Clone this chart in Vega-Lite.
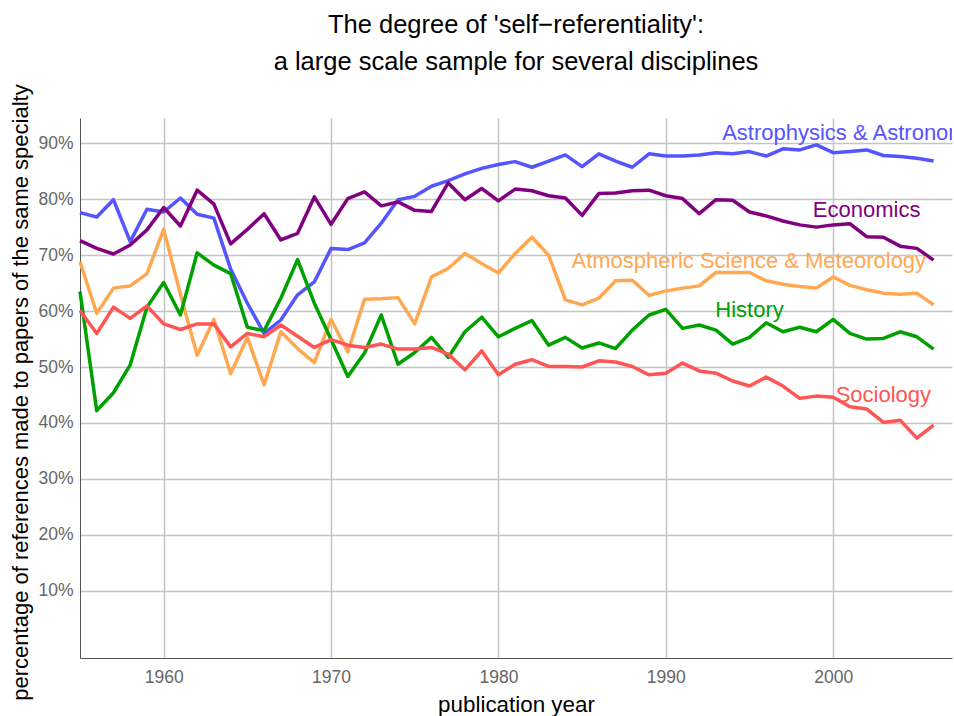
{
  "$schema": "https://vega.github.io/schema/vega-lite/v6.json",
  "autosize": "none",
  "width": 872,
  "height": 540,
  "padding": {"left": 80, "top": 118, "right": 2, "bottom": 58},
  "background": "white",
  "config": {
    "font": "Liberation Sans",
    "view": {"stroke": null},
    "axis": {"labelFont": "Liberation Sans", "titleFont": "Liberation Sans"}
  },
  "title": {
    "text": ["The degree of 'self\u2212referentiality':", "a large scale sample for several disciplines"],
    "fontSize": 25.5,
    "fontWeight": "normal",
    "color": "black",
    "lineHeight": 37,
    "anchor": "middle",
    "frame": "group",
    "baseline": "alphabetic",
    "offset": -12
  },
  "datasets": {
    "series": [
      {"year":1955,"discipline":"Astrophysics & Astronomy","share":0.776},{"year":1956,"discipline":"Astrophysics & Astronomy","share":0.768},{"year":1957,"discipline":"Astrophysics & Astronomy","share":0.799},{"year":1958,"discipline":"Astrophysics & Astronomy","share":0.724},{"year":1959,"discipline":"Astrophysics & Astronomy","share":0.782},{"year":1960,"discipline":"Astrophysics & Astronomy","share":0.777},{"year":1961,"discipline":"Astrophysics & Astronomy","share":0.802},{"year":1962,"discipline":"Astrophysics & Astronomy","share":0.773},{"year":1963,"discipline":"Astrophysics & Astronomy","share":0.766},{"year":1964,"discipline":"Astrophysics & Astronomy","share":0.675},{"year":1965,"discipline":"Astrophysics & Astronomy","share":0.614},{"year":1966,"discipline":"Astrophysics & Astronomy","share":0.560},{"year":1967,"discipline":"Astrophysics & Astronomy","share":0.584},{"year":1968,"discipline":"Astrophysics & Astronomy","share":0.629},{"year":1969,"discipline":"Astrophysics & Astronomy","share":0.652},{"year":1970,"discipline":"Astrophysics & Astronomy","share":0.712},{"year":1971,"discipline":"Astrophysics & Astronomy","share":0.710},{"year":1972,"discipline":"Astrophysics & Astronomy","share":0.722},{"year":1973,"discipline":"Astrophysics & Astronomy","share":0.757},{"year":1974,"discipline":"Astrophysics & Astronomy","share":0.799},{"year":1975,"discipline":"Astrophysics & Astronomy","share":0.805},{"year":1976,"discipline":"Astrophysics & Astronomy","share":0.823},{"year":1977,"discipline":"Astrophysics & Astronomy","share":0.833},{"year":1978,"discipline":"Astrophysics & Astronomy","share":0.845},{"year":1979,"discipline":"Astrophysics & Astronomy","share":0.855},{"year":1980,"discipline":"Astrophysics & Astronomy","share":0.862},{"year":1981,"discipline":"Astrophysics & Astronomy","share":0.867},{"year":1982,"discipline":"Astrophysics & Astronomy","share":0.857},{"year":1983,"discipline":"Astrophysics & Astronomy","share":0.868},{"year":1984,"discipline":"Astrophysics & Astronomy","share":0.879},{"year":1985,"discipline":"Astrophysics & Astronomy","share":0.858},{"year":1986,"discipline":"Astrophysics & Astronomy","share":0.881},{"year":1987,"discipline":"Astrophysics & Astronomy","share":0.868},{"year":1988,"discipline":"Astrophysics & Astronomy","share":0.857},{"year":1989,"discipline":"Astrophysics & Astronomy","share":0.881},{"year":1990,"discipline":"Astrophysics & Astronomy","share":0.877},{"year":1991,"discipline":"Astrophysics & Astronomy","share":0.877},{"year":1992,"discipline":"Astrophysics & Astronomy","share":0.879},{"year":1993,"discipline":"Astrophysics & Astronomy","share":0.883},{"year":1994,"discipline":"Astrophysics & Astronomy","share":0.881},{"year":1995,"discipline":"Astrophysics & Astronomy","share":0.885},{"year":1996,"discipline":"Astrophysics & Astronomy","share":0.877},{"year":1997,"discipline":"Astrophysics & Astronomy","share":0.890},{"year":1998,"discipline":"Astrophysics & Astronomy","share":0.888},{"year":1999,"discipline":"Astrophysics & Astronomy","share":0.897},{"year":2000,"discipline":"Astrophysics & Astronomy","share":0.883},{"year":2001,"discipline":"Astrophysics & Astronomy","share":0.885},{"year":2002,"discipline":"Astrophysics & Astronomy","share":0.888},{"year":2003,"discipline":"Astrophysics & Astronomy","share":0.878},{"year":2004,"discipline":"Astrophysics & Astronomy","share":0.876},{"year":2005,"discipline":"Astrophysics & Astronomy","share":0.873},{"year":2006,"discipline":"Astrophysics & Astronomy","share":0.868},
      {"year":1955,"discipline":"Economics","share":0.726},{"year":1956,"discipline":"Economics","share":0.712},{"year":1957,"discipline":"Economics","share":0.702},{"year":1958,"discipline":"Economics","share":0.718},{"year":1959,"discipline":"Economics","share":0.745},{"year":1960,"discipline":"Economics","share":0.785},{"year":1961,"discipline":"Economics","share":0.752},{"year":1962,"discipline":"Economics","share":0.816},{"year":1963,"discipline":"Economics","share":0.791},{"year":1964,"discipline":"Economics","share":0.720},{"year":1965,"discipline":"Economics","share":0.746},{"year":1966,"discipline":"Economics","share":0.774},{"year":1967,"discipline":"Economics","share":0.727},{"year":1968,"discipline":"Economics","share":0.739},{"year":1969,"discipline":"Economics","share":0.804},{"year":1970,"discipline":"Economics","share":0.755},{"year":1971,"discipline":"Economics","share":0.801},{"year":1972,"discipline":"Economics","share":0.813},{"year":1973,"discipline":"Economics","share":0.788},{"year":1974,"discipline":"Economics","share":0.795},{"year":1975,"discipline":"Economics","share":0.780},{"year":1976,"discipline":"Economics","share":0.778},{"year":1977,"discipline":"Economics","share":0.829},{"year":1978,"discipline":"Economics","share":0.799},{"year":1979,"discipline":"Economics","share":0.819},{"year":1980,"discipline":"Economics","share":0.797},{"year":1981,"discipline":"Economics","share":0.818},{"year":1982,"discipline":"Economics","share":0.815},{"year":1983,"discipline":"Economics","share":0.806},{"year":1984,"discipline":"Economics","share":0.802},{"year":1985,"discipline":"Economics","share":0.771},{"year":1986,"discipline":"Economics","share":0.810},{"year":1987,"discipline":"Economics","share":0.811},{"year":1988,"discipline":"Economics","share":0.815},{"year":1989,"discipline":"Economics","share":0.816},{"year":1990,"discipline":"Economics","share":0.806},{"year":1991,"discipline":"Economics","share":0.801},{"year":1992,"discipline":"Economics","share":0.774},{"year":1993,"discipline":"Economics","share":0.799},{"year":1994,"discipline":"Economics","share":0.798},{"year":1995,"discipline":"Economics","share":0.777},{"year":1996,"discipline":"Economics","share":0.770},{"year":1997,"discipline":"Economics","share":0.761},{"year":1998,"discipline":"Economics","share":0.754},{"year":1999,"discipline":"Economics","share":0.750},{"year":2000,"discipline":"Economics","share":0.754},{"year":2001,"discipline":"Economics","share":0.756},{"year":2002,"discipline":"Economics","share":0.733},{"year":2003,"discipline":"Economics","share":0.732},{"year":2004,"discipline":"Economics","share":0.716},{"year":2005,"discipline":"Economics","share":0.712},{"year":2006,"discipline":"Economics","share":0.691},
      {"year":1955,"discipline":"Atmospheric Science & Meteorology","share":0.688},{"year":1956,"discipline":"Atmospheric Science & Meteorology","share":0.596},{"year":1957,"discipline":"Atmospheric Science & Meteorology","share":0.641},{"year":1958,"discipline":"Atmospheric Science & Meteorology","share":0.645},{"year":1959,"discipline":"Atmospheric Science & Meteorology","share":0.667},{"year":1960,"discipline":"Atmospheric Science & Meteorology","share":0.746},{"year":1961,"discipline":"Atmospheric Science & Meteorology","share":0.630},{"year":1962,"discipline":"Atmospheric Science & Meteorology","share":0.521},{"year":1963,"discipline":"Atmospheric Science & Meteorology","share":0.585},{"year":1964,"discipline":"Atmospheric Science & Meteorology","share":0.488},{"year":1965,"discipline":"Atmospheric Science & Meteorology","share":0.553},{"year":1966,"discipline":"Atmospheric Science & Meteorology","share":0.468},{"year":1967,"discipline":"Atmospheric Science & Meteorology","share":0.563},{"year":1968,"discipline":"Atmospheric Science & Meteorology","share":0.533},{"year":1969,"discipline":"Atmospheric Science & Meteorology","share":0.508},{"year":1970,"discipline":"Atmospheric Science & Meteorology","share":0.585},{"year":1971,"discipline":"Atmospheric Science & Meteorology","share":0.527},{"year":1972,"discipline":"Atmospheric Science & Meteorology","share":0.621},{"year":1973,"discipline":"Atmospheric Science & Meteorology","share":0.622},{"year":1974,"discipline":"Atmospheric Science & Meteorology","share":0.624},{"year":1975,"discipline":"Atmospheric Science & Meteorology","share":0.577},{"year":1976,"discipline":"Atmospheric Science & Meteorology","share":0.661},{"year":1977,"discipline":"Atmospheric Science & Meteorology","share":0.676},{"year":1978,"discipline":"Atmospheric Science & Meteorology","share":0.703},{"year":1979,"discipline":"Atmospheric Science & Meteorology","share":0.685},{"year":1980,"discipline":"Atmospheric Science & Meteorology","share":0.668},{"year":1981,"discipline":"Atmospheric Science & Meteorology","share":0.703},{"year":1982,"discipline":"Atmospheric Science & Meteorology","share":0.732},{"year":1983,"discipline":"Atmospheric Science & Meteorology","share":0.700},{"year":1984,"discipline":"Atmospheric Science & Meteorology","share":0.620},{"year":1985,"discipline":"Atmospheric Science & Meteorology","share":0.611},{"year":1986,"discipline":"Atmospheric Science & Meteorology","share":0.623},{"year":1987,"discipline":"Atmospheric Science & Meteorology","share":0.654},{"year":1988,"discipline":"Atmospheric Science & Meteorology","share":0.655},{"year":1989,"discipline":"Atmospheric Science & Meteorology","share":0.628},{"year":1990,"discipline":"Atmospheric Science & Meteorology","share":0.636},{"year":1991,"discipline":"Atmospheric Science & Meteorology","share":0.641},{"year":1992,"discipline":"Atmospheric Science & Meteorology","share":0.645},{"year":1993,"discipline":"Atmospheric Science & Meteorology","share":0.669},{"year":1994,"discipline":"Atmospheric Science & Meteorology","share":0.669},{"year":1995,"discipline":"Atmospheric Science & Meteorology","share":0.669},{"year":1996,"discipline":"Atmospheric Science & Meteorology","share":0.654},{"year":1997,"discipline":"Atmospheric Science & Meteorology","share":0.648},{"year":1998,"discipline":"Atmospheric Science & Meteorology","share":0.644},{"year":1999,"discipline":"Atmospheric Science & Meteorology","share":0.641},{"year":2000,"discipline":"Atmospheric Science & Meteorology","share":0.661},{"year":2001,"discipline":"Atmospheric Science & Meteorology","share":0.646},{"year":2002,"discipline":"Atmospheric Science & Meteorology","share":0.638},{"year":2003,"discipline":"Atmospheric Science & Meteorology","share":0.632},{"year":2004,"discipline":"Atmospheric Science & Meteorology","share":0.630},{"year":2005,"discipline":"Atmospheric Science & Meteorology","share":0.632},{"year":2006,"discipline":"Atmospheric Science & Meteorology","share":0.611},
      {"year":1955,"discipline":"History","share":0.635},{"year":1956,"discipline":"History","share":0.422},{"year":1957,"discipline":"History","share":0.454},{"year":1958,"discipline":"History","share":0.504},{"year":1959,"discipline":"History","share":0.607},{"year":1960,"discipline":"History","share":0.651},{"year":1961,"discipline":"History","share":0.593},{"year":1962,"discipline":"History","share":0.704},{"year":1963,"discipline":"History","share":0.682},{"year":1964,"discipline":"History","share":0.667},{"year":1965,"discipline":"History","share":0.571},{"year":1966,"discipline":"History","share":0.565},{"year":1967,"discipline":"History","share":0.623},{"year":1968,"discipline":"History","share":0.692},{"year":1969,"discipline":"History","share":0.614},{"year":1970,"discipline":"History","share":0.549},{"year":1971,"discipline":"History","share":0.483},{"year":1972,"discipline":"History","share":0.525},{"year":1973,"discipline":"History","share":0.593},{"year":1974,"discipline":"History","share":0.505},{"year":1975,"discipline":"History","share":0.526},{"year":1976,"discipline":"History","share":0.553},{"year":1977,"discipline":"History","share":0.517},{"year":1978,"discipline":"History","share":0.563},{"year":1979,"discipline":"History","share":0.589},{"year":1980,"discipline":"History","share":0.554},{"year":1981,"discipline":"History","share":0.569},{"year":1982,"discipline":"History","share":0.583},{"year":1983,"discipline":"History","share":0.539},{"year":1984,"discipline":"History","share":0.553},{"year":1985,"discipline":"History","share":0.534},{"year":1986,"discipline":"History","share":0.543},{"year":1987,"discipline":"History","share":0.533},{"year":1988,"discipline":"History","share":0.566},{"year":1989,"discipline":"History","share":0.593},{"year":1990,"discipline":"History","share":0.603},{"year":1991,"discipline":"History","share":0.569},{"year":1992,"discipline":"History","share":0.575},{"year":1993,"discipline":"History","share":0.566},{"year":1994,"discipline":"History","share":0.541},{"year":1995,"discipline":"History","share":0.553},{"year":1996,"discipline":"History","share":0.579},{"year":1997,"discipline":"History","share":0.563},{"year":1998,"discipline":"History","share":0.571},{"year":1999,"discipline":"History","share":0.563},{"year":2000,"discipline":"History","share":0.585},{"year":2001,"discipline":"History","share":0.560},{"year":2002,"discipline":"History","share":0.550},{"year":2003,"discipline":"History","share":0.551},{"year":2004,"discipline":"History","share":0.563},{"year":2005,"discipline":"History","share":0.554},{"year":2006,"discipline":"History","share":0.532},
      {"year":1955,"discipline":"Sociology","share":0.601},{"year":1956,"discipline":"Sociology","share":0.560},{"year":1957,"discipline":"Sociology","share":0.607},{"year":1958,"discipline":"Sociology","share":0.587},{"year":1959,"discipline":"Sociology","share":0.609},{"year":1960,"discipline":"Sociology","share":0.577},{"year":1961,"discipline":"Sociology","share":0.567},{"year":1962,"discipline":"Sociology","share":0.577},{"year":1963,"discipline":"Sociology","share":0.577},{"year":1964,"discipline":"Sociology","share":0.536},{"year":1965,"discipline":"Sociology","share":0.560},{"year":1966,"discipline":"Sociology","share":0.554},{"year":1967,"discipline":"Sociology","share":0.575},{"year":1968,"discipline":"Sociology","share":0.555},{"year":1969,"discipline":"Sociology","share":0.535},{"year":1970,"discipline":"Sociology","share":0.549},{"year":1971,"discipline":"Sociology","share":0.539},{"year":1972,"discipline":"Sociology","share":0.535},{"year":1973,"discipline":"Sociology","share":0.541},{"year":1974,"discipline":"Sociology","share":0.532},{"year":1975,"discipline":"Sociology","share":0.532},{"year":1976,"discipline":"Sociology","share":0.535},{"year":1977,"discipline":"Sociology","share":0.523},{"year":1978,"discipline":"Sociology","share":0.495},{"year":1979,"discipline":"Sociology","share":0.529},{"year":1980,"discipline":"Sociology","share":0.486},{"year":1981,"discipline":"Sociology","share":0.505},{"year":1982,"discipline":"Sociology","share":0.513},{"year":1983,"discipline":"Sociology","share":0.501},{"year":1984,"discipline":"Sociology","share":0.501},{"year":1985,"discipline":"Sociology","share":0.500},{"year":1986,"discipline":"Sociology","share":0.511},{"year":1987,"discipline":"Sociology","share":0.509},{"year":1988,"discipline":"Sociology","share":0.501},{"year":1989,"discipline":"Sociology","share":0.486},{"year":1990,"discipline":"Sociology","share":0.489},{"year":1991,"discipline":"Sociology","share":0.507},{"year":1992,"discipline":"Sociology","share":0.493},{"year":1993,"discipline":"Sociology","share":0.489},{"year":1994,"discipline":"Sociology","share":0.475},{"year":1995,"discipline":"Sociology","share":0.466},{"year":1996,"discipline":"Sociology","share":0.482},{"year":1997,"discipline":"Sociology","share":0.466},{"year":1998,"discipline":"Sociology","share":0.444},{"year":1999,"discipline":"Sociology","share":0.448},{"year":2000,"discipline":"Sociology","share":0.446},{"year":2001,"discipline":"Sociology","share":0.429},{"year":2002,"discipline":"Sociology","share":0.425},{"year":2003,"discipline":"Sociology","share":0.401},{"year":2004,"discipline":"Sociology","share":0.405},{"year":2005,"discipline":"Sociology","share":0.373},{"year":2006,"discipline":"Sociology","share":0.396}
    ],
    "labels": [
      {"discipline":"Astrophysics & Astronomy","year":2001.0,"share":0.919},
      {"discipline":"Economics","year":2002.0,"share":0.780},
      {"discipline":"Atmospheric Science & Meteorology","year":1994.96,"share":0.690},
      {"discipline":"History","year":1995.0,"share":0.602},
      {"discipline":"Sociology","year":2003.0,"share":0.450}
    ]
  },
  "encoding": {
    "x": {
      "field": "year", "type": "quantitative",
      "scale": {"domain": [1955, 2007.1], "nice": false, "zero": false},
      "axis": {
        "title": "publication year",
        "values": [1960, 1970, 1980, 1990, 2000],
        "format": "d",
        "ticks": false,
        "labelPadding": 10,
        "labelFontSize": 17.5,
        "labelColor": "#666666",
        "titleFontSize": 22.4,
        "titleFontWeight": "normal",
        "titleColor": "black",
        "titleBaseline": "middle",
        "titleY": 46,
        "domainColor": "#555555",
        "domainWidth": 1,
        "grid": true,
        "gridColor": "#c4c4c4",
        "gridWidth": 1.5
      }
    },
    "y": {
      "field": "share", "type": "quantitative",
      "scale": {"domain": [-0.02, 0.945], "nice": false, "zero": false},
      "axis": {
        "title": "percentage of references made to papers of the same specialty",
        "values": [0.1, 0.2, 0.3, 0.4, 0.5, 0.6, 0.7, 0.8, 0.9],
        "format": ".0%",
        "ticks": false,
        "labelPadding": 7,
        "labelFontSize": 17.5,
        "labelColor": "#666666",
        "titleFontSize": 22,
        "titleFontWeight": "normal",
        "titleColor": "black",
        "titleAngle": -90,
        "titleBaseline": "middle",
        "titleAlign": "center",
        "titleX": -60,
        "titleY": 274,
        "domainColor": "#555555",
        "domainWidth": 1,
        "grid": true,
        "gridColor": "#c4c4c4",
        "gridWidth": 1.5
      }
    },
    "color": {
      "field": "discipline", "type": "nominal",
      "scale": {
        "domain": ["Astrophysics & Astronomy", "Economics", "Atmospheric Science & Meteorology", "History", "Sociology"],
        "range": ["#5555FF", "#800080", "#FFA852", "#00A000", "#FF5555"]
      },
      "legend": null
    }
  },
  "layer": [
    {
      "data": {"name": "series"},
      "mark": {"type": "line", "strokeWidth": 3.5, "strokeJoin": "round"}
    },
    {
      "data": {"name": "labels"},
      "mark": {"type": "text", "fontSize": 22, "baseline": "middle", "align": "center", "clip": true},
      "encoding": {"text": {"field": "discipline"}}
    }
  ]
}
